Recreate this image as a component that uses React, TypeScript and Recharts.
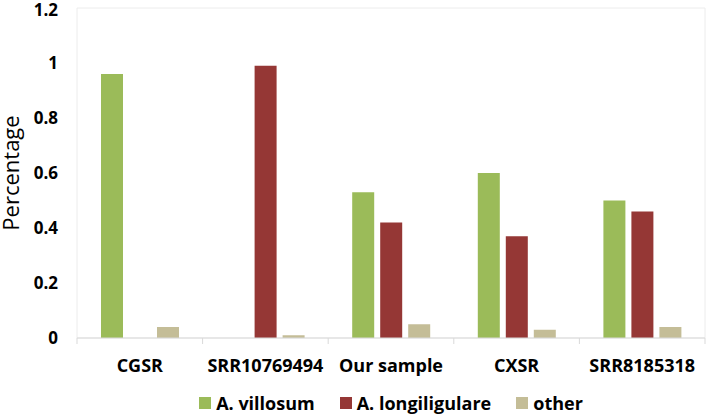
import React from "react";
import {
  BarChart,
  Bar,
  XAxis,
  YAxis,
  Legend,
  ReferenceArea,
} from "recharts";

const samples = ["CGSR", "SRR10769494", "Our sample", "CXSR", "SRR8185318"];
const villosum = [0.96, 0, 0.53, 0.6, 0.5];
const longiligulare = [0, 0.99, 0.42, 0.37, 0.46];
const other = [0.04, 0.01, 0.05, 0.03, 0.04];
const yTicks = [0, 0.2, 0.4, 0.6, 0.8, 1, 1.2];

const series = [
  { key: "villosum", name: "A. villosum", color: "#9BBB59" },
  { key: "longiligulare", name: "A. longiligulare", color: "#953735" },
  { key: "other", name: "other", color: "#C4BD97" },
];

const data = samples.map((name, i) => ({
  name,
  villosum: villosum[i],
  longiligulare: longiligulare[i],
  other: other[i],
}));

const FONT = "'Open Sans', sans-serif";

const SampleTick = (props: any) => {
  const { x, y, payload, index, visibleTicksCount } = props;
  const half = payload?.offset ?? 62.8;
  const last = index === visibleTicksCount - 1;
  return (
    <g>
      <line x1={x - half} x2={x - half} y1={y} y2={y + 6} stroke="#d9d9d9" />
      {last && (
        <line x1={x + half} x2={x + half} y1={y} y2={y + 6} stroke="#d9d9d9" />
      )}
      <text
        x={x}
        y={y + 34}
        textAnchor="middle"
        fontSize={18}
        fontWeight={700}
        fill="#000"
      >
        {payload.value}
      </text>
    </g>
  );
};

const YLabel = (props: any) => {
  const vb = props.viewBox || { x: 0, y: 8, height: 330 };
  const cx = 18.5;
  const cy = vb.y + vb.height / 2;
  return (
    <text
      x={cx}
      y={cy}
      textAnchor="middle"
      fontSize={22}
      fill="#000"
      transform={`rotate(-90 ${cx} ${cy})`}
    >
      Percentage
    </text>
  );
};

const LegendContent = () => (
  <div
    style={{
      display: "flex",
      justifyContent: "center",
      alignItems: "center",
      height: 24,
      paddingLeft: 77,
      fontFamily: FONT,
      fontSize: 18,
      fontWeight: 700,
      color: "#000",
    }}
  >
    {series.map((s, i) => (
      <div
        key={s.key}
        style={{
          display: "flex",
          alignItems: "center",
          marginRight: i < series.length - 1 ? 25 : 0,
        }}
      >
        <span
          style={{
            display: "inline-block",
            width: 12,
            height: 12,
            background: s.color,
            marginRight: 5,
          }}
        />
        <span>{s.name}</span>
      </div>
    ))}
  </div>
);

export default function App() {
  return (
    <div
      style={{
        position: "absolute",
        left: 0,
        top: 0,
        width: 708,
        height: 415,
        background: "#fff",
        fontFamily: FONT,
      }}
    >
      <BarChart
        width={708}
        height={415}
        data={data}
        margin={{ top: 8, right: 3, left: 0, bottom: 0 }}
        barCategoryGap={24}
        barGap={6}
      >
        <ReferenceArea
          y1={0}
          y2={1.2}
          fill="none"
          stroke="#ececec"
          ifOverflow="visible"
        />
        <XAxis
          dataKey="name"
          height={53}
          tickSize={0}
          tickMargin={0}
          tickLine={false}
          axisLine={{ stroke: "#d9d9d9" }}
          tick={<SampleTick />}
          interval={0}
        />
        <YAxis
          width={77}
          domain={[0, 1.2]}
          ticks={yTicks}
          tickLine={false}
          axisLine={false}
          tickSize={0}
          tickMargin={19}
          tick={{ fontSize: 17, fontWeight: 700, fill: "#000" }}
          label={<YLabel />}
        />
        <Legend verticalAlign="bottom" height={24} content={<LegendContent />} />
        {series.map((s) => (
          <Bar
            key={s.key}
            dataKey={s.key}
            name={s.name}
            fill={s.color}
            isAnimationActive={false}
          />
        ))}
      </BarChart>
    </div>
  );
}
